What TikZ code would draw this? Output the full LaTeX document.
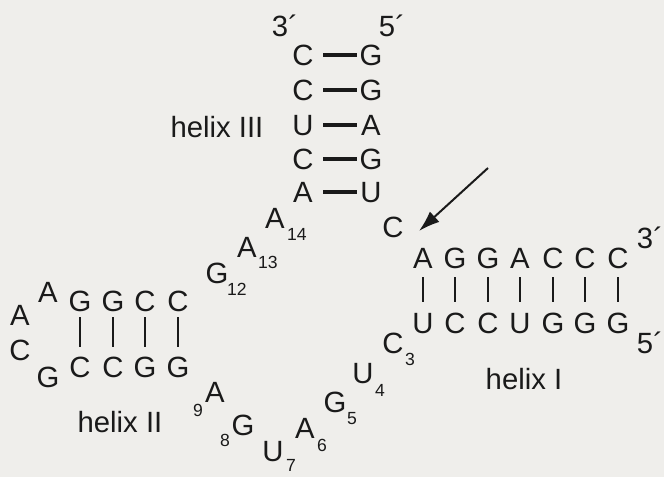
\documentclass[tikz,border=0pt]{standalone}
\usepackage{fontspec}
\setmainfont{Liberation Sans}
\usetikzlibrary{arrows.meta,calc}
\definecolor{paper}{HTML}{EFEEEB}
\definecolor{ink}{HTML}{1A1A1A}
\tikzset{
  nt/.style={inner sep=0pt, text height=17.9pt, text depth=0pt, minimum width=19.5pt,
    font=\fontsize{25}{25}\selectfont, text=ink},
  idx/.style={inner sep=0pt, text height=10.7pt, text depth=0pt,
    font=\fontsize{15}{15}\selectfont, text=ink},
  tag/.style={inner sep=0pt, text height=17.9pt, text depth=0pt,
    font=\fontsize{25}{25}\selectfont, text=ink},
  bond/.style={draw=ink, line width=1.5pt},
  pair/.style={draw=ink, line width=2.8pt, shorten <=7.3pt, shorten >=2.2pt},
  pointer/.style={draw=ink, line width=1.7pt, -{Latex[length=18pt,width=12pt]}},
}
\begin{document}
\begin{tikzpicture}[x=0.03cm, y=-0.03cm]
  \fill[paper] (0,0) rectangle (664,477);
  \useasboundingbox (0,0) rectangle (664,477);

  % ---- helix III ----
  \node[tag] (p3a) at (285,26) {3´};
  \node[tag] (p5a) at (392,26) {5´};
  \foreach \l/\r/\y [count=\i] in {C/G/55, C/G/90, U/A/125, C/G/159, A/U/192} {
    \node[nt] (hl\i) at (303,\y) {\l};
    \node[nt] (hr\i) at (371,\y) {\r};
    \draw[pair] (hl\i.east) -- (hr\i.west);
  }
  \node[tag] (lab3) at (217,127) {helix III};

  % ---- junction nucleotides ----
  \node[nt] (a14) at (275,218) {A};  \node[idx] (i14) at (297,234) {14};
  \node[nt] (a13) at (247,247) {A};  \node[idx] (i13) at (268,262) {13};
  \node[nt] (g12) at (217,273) {G};  \node[idx] (i12) at (237,289) {12};
  \node[nt] (cj)  at (393,227) {C};

  \node[nt] (c3) at (393,343) {C};   \node[idx] (i3) at (410,359) {3};
  \node[nt] (u4) at (363,373) {U};   \node[idx] (i4) at (380,390) {4};
  \node[nt] (g5) at (335,402) {G};   \node[idx] (i5) at (352,418) {5};
  \node[nt] (a6) at (305,428) {A};   \node[idx] (i6) at (322,445) {6};
  \node[nt] (u7) at (273,451) {U};   \node[idx] (i7) at (291,465) {7};
  \node[nt] (g8) at (243,425) {G};   \node[idx] (i8) at (225,440) {8};
  \node[nt] (a9) at (215,392) {A};   \node[idx] (i9) at (198,410) {9};

  % ---- helix I ----
  \foreach \t/\b/\x [count=\i] in {A/U/423, G/C/455, G/C/488, A/U/520, C/G/553, C/G/585, C/G/618} {
    \node[nt] (t\i) at (\x,258) {\t};
    \node[nt] (b\i) at (\x,323) {\b};
    \draw[bond, shorten <=7.4pt, shorten >=9pt] (t\i.south) -- (b\i.north);
  }
  \node[tag] (p3b) at (650,238) {3´};
  \node[tag] (p5b) at (650,343) {5´};
  \node[tag] (lab1) at (524,379) {helix I};

  % cleavage site arrow
  \coordinate (tail) at (488,168);
  \coordinate (cut) at (419,231);
  \draw[pointer] (tail) -- (cut);

  % ---- helix II ----
  \foreach \t/\b/\x [count=\i] in {G/C/80, G/C/113, C/G/145, C/G/178} {
    \node[nt] (u\i) at (\x,301) {\t};
    \node[nt] (d\i) at (\x,367) {\b};
    \draw[bond, shorten <=4.7pt, shorten >=8pt] (u\i.south) -- (d\i.north);
  }
  \node[nt] (la1) at (48,292) {A};
  \node[nt] (la2) at (20,315) {A};
  \node[nt] (lc)  at (20,350) {C};
  \node[nt] (lg)  at (48,377) {G};
  \node[tag] (lab2) at (120,422) {helix II};
\end{tikzpicture}
\end{document}
